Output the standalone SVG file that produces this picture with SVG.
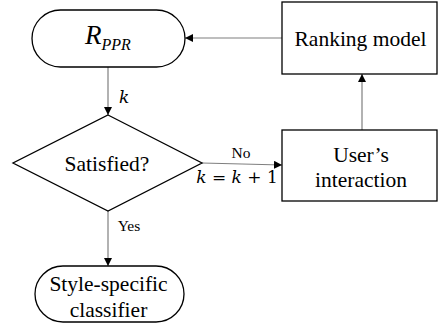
<svg xmlns="http://www.w3.org/2000/svg" width="438" height="329" viewBox="0 0 438 329">
<style>
.shape{fill:#fff;stroke:#000;stroke-width:1.3}
.conn{fill:none;stroke:#7f7f7f;stroke-width:1.2}
.t{font-family:"Liberation Serif","Times New Roman",serif;fill:#000;text-anchor:middle;font-size:21.5px}
.s{font-family:"Liberation Serif","Times New Roman",serif;fill:#000;text-anchor:middle;font-size:15.5px}
.m{font-family:"DejaVu Serif","Liberation Serif",serif;fill:#000}
</style>
<defs>
<marker id="ah" viewBox="0 0 10 10" refX="10" refY="5" markerWidth="8" markerHeight="8" markerUnits="userSpaceOnUse" orient="auto">
<path d="M0,0 L10,5 L0,10 z" fill="#000"/>
</marker>
</defs>
<rect width="438" height="329" fill="#fff"/>
<g id="connectors">
<line class="conn" x1="282" y1="38" x2="185" y2="38" marker-end="url(#ah)"/>
<line class="conn" x1="362" y1="130" x2="362" y2="74" marker-end="url(#ah)"/>
<line class="conn" x1="108" y1="67" x2="108" y2="115" marker-end="url(#ah)"/>
<line class="conn" x1="202" y1="163" x2="282" y2="165" marker-end="url(#ah)"/>
<line class="conn" x1="108" y1="211" x2="108" y2="266" marker-end="url(#ah)"/>
<text class="m" x="119" y="103" font-size="17" font-style="italic">k</text>
<text class="s" x="241" y="158">No</text>
<text class="m" x="237" y="183" font-size="17" text-anchor="middle"><tspan font-style="italic">k</tspan> = <tspan font-style="italic">k</tspan> + 1</text>
<text class="s" x="129" y="231">Yes</text>
</g>
<g id="rppr">
<rect class="shape" x="32" y="10" width="153" height="57" rx="28.5" ry="28.5"/>
<text style="font-family:'Liberation Serif','Times New Roman',serif;font-style:italic" x="85" y="44" font-size="27">R<tspan font-size="16" dy="6">PPR</tspan></text>
</g>
<g id="ranking">
<rect class="shape" x="282" y="2" width="155" height="72"/>
<text class="t" x="360.5" y="46">Ranking model</text>
</g>
<g id="satisfied">
<polygon class="shape" points="108,115 202,163 108,211 13,163"/>
<text class="t" x="107" y="171">Satisfied?</text>
</g>
<g id="interaction">
<rect class="shape" x="282" y="130" width="155" height="71"/>
<text class="t" x="361" y="162">User’s</text>
<text class="t" x="361" y="187">interaction</text>
</g>
<g id="classifier">
<rect class="shape" x="35" y="266" width="149" height="56" rx="28" ry="28"/>
<text class="t" x="108.5" y="291">Style-specific</text>
<text class="t" x="108.5" y="317">classifier</text>
</g>
</svg>
